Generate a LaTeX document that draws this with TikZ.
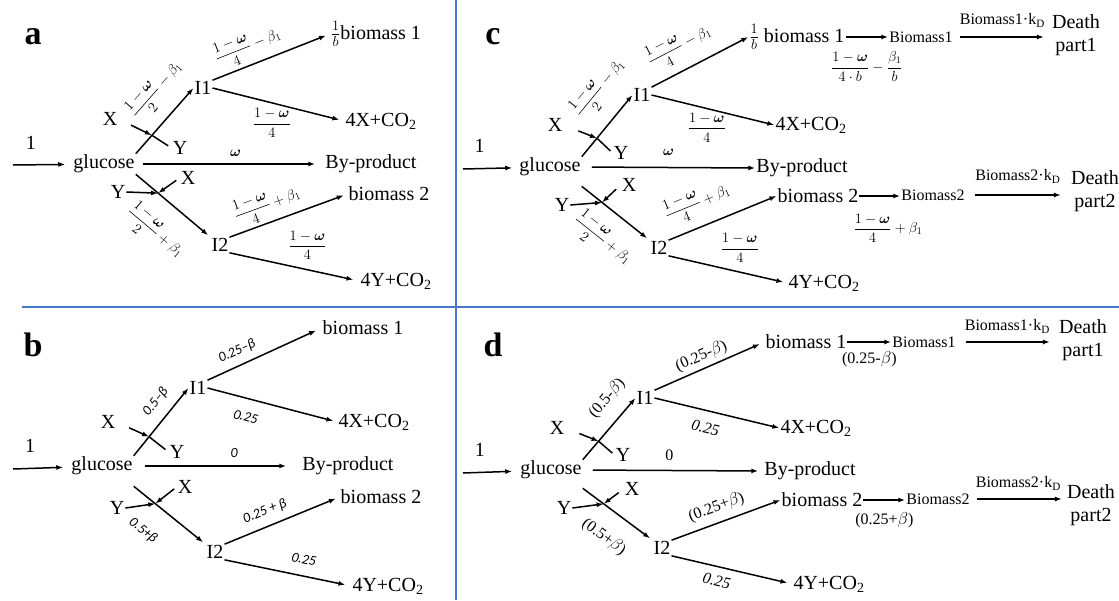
\documentclass[tikz,border=0pt]{standalone}
\usepackage{amsmath}
\usepackage{fontspec}
\setmainfont{Liberation Serif}
\newfontfamily\carlito{Carlito}
\usetikzlibrary{arrows.meta}
\definecolor{sepblue}{RGB}{74,120,200}
\newcommand{\bomega}{\boldsymbol{\omega}}
\begin{document}
\begin{tikzpicture}[x=1pt,y=-1pt,
  every node/.style={font=\fontsize{20}{22}\selectfont, inner sep=1pt},
  flow/.style={-{Latex[length=7pt,width=5pt]}, line width=1.5pt},
  bar/.style={line width=1.5pt},
  tag/.style={font=\fontsize{34}{36}\selectfont\bfseries},
  frac/.style={font=\fontsize{14}{16}\selectfont, inner sep=0pt},
  sanslab/.style={font=\fontsize{14}{16}\selectfont\carlito\itshape, inner sep=0pt},
  seriflab/.style={font=\fontsize{16}{18}\selectfont, inner sep=0pt},
  minor/.style={font=\fontsize{16}{18}\selectfont},
  death/.style={align=center, font=\fontsize{20}{23}\selectfont},
  sep/.style={draw=sepblue, line width=2.6pt}]
\useasboundingbox (0,0) rectangle (1119,600);

% separators
\draw[sep] (456,0) -- (456,600);
\draw[sep] (22,307) -- (1119,307);

% panel a
\node[tag] (taga) at (33,37) {a};
\coordinate (ina) at (13,165);
\node (glua) at (104,164) {glucose};
\node (i1a) at (203,88) {I1};
\node (i2a) at (220,245) {I2};
\node (bm1a) at (376,34) {$\frac{1}{b}$biomass 1};
\node (co2xa) at (381,121) {4X+CO\textsubscript{2}};
\node (bypa) at (371,164) {By-product};
\node (bm2a) at (389,194) {biomass 2};
\node (co2ya) at (396,281) {4Y+CO\textsubscript{2}};
\node (xua) at (110,119) {X};
\node (yua) at (180,148) {Y};
\node (xla) at (188,178) {X};
\node (yla) at (118,192) {Y};

\draw[flow, shorten >=7pt] (ina) -- node[pos=.3, above=14pt] {1} (glua);
\draw[flow] (glua.north east) -- coordinate[pos=.28] (cua) node[frac, pos=.7, sloped, above=12pt] {$\dfrac{1-\bomega}{2}-\beta_1$} (i1a.west);
\draw[flow, shorten <=7pt, shorten >=9pt] (glua.east) -- node[frac, pos=.53, above=7pt] {$\bomega$} (bypa.west);
\draw[flow, shorten >=3pt] (glua.south east) -- coordinate[pos=.3] (cla) node[frac, pos=.53, sloped, below=16pt] {$\dfrac{1-\bomega}{2}+\beta_1$} (i2a.north west);
\draw[flow, shorten >=4pt] (i1a.north east) -- node[frac, pos=.36, sloped, above=4pt] {$\dfrac{1-\bomega}{4}-\beta_1$} (bm1a.west);
\draw[flow, shorten >=5pt] (i1a.east) -- node[frac, pos=.45, below=5pt] {$\dfrac{1-\bomega}{4}$} (co2xa.west);
\draw[flow, shorten >=4pt] (i2a.north east) -- node[frac, pos=.37, sloped, above=3pt] {$\dfrac{1-\bomega}{4}+\beta_1$} (bm2a.west);
\draw[flow, shorten >=6pt] (i2a.south east) -- node[frac, pos=.6, above=9pt] {$\dfrac{1-\bomega}{4}$} (co2ya.west);
\draw[flow, shorten <=14pt] (xua.east) -- (cua);
\draw[bar, shorten >=4pt] (cua) -- (yua.west);
\draw[flow, shorten <=4pt] (xla.west) -- (cla);
\draw[flow] (yla.east) -- (cla);

% panel b
\node[tag] (tagb) at (33,345) {b};
\coordinate (inb) at (13,469);
\node (glub) at (102,466) {glucose};
\node (i1b) at (198,388) {I1};
\node (i2b) at (215,552) {I2};
\node (bm1b) at (363,328) {biomass 1};
\node (co2xb) at (374,422) {4X+CO\textsubscript{2}};
\node (bypb) at (348,466) {By-product};
\node (bm2b) at (381,497) {biomass 2};
\node (co2yb) at (388,586) {4Y+CO\textsubscript{2}};
\node (xub) at (108,422) {X};
\node (yub) at (177,452) {Y};
\node (xlb) at (185,487) {X};
\node (ylb) at (117,508) {Y};

\draw[flow, shorten >=7pt] (inb) -- node[pos=.3, above=14pt] {1} (glub);
\draw[flow] (glub.north east) -- coordinate[pos=.28] (cub) node[sanslab, pos=.64, sloped, above=10pt] {0.5–β} (i1b.west);
\draw[flow, shorten <=11pt, shorten >=15pt] (glub.east) -- node[sanslab, pos=.6, above=8pt] {0} (bypb.west);
\draw[flow, shorten >=3pt] ([yshift=-10pt]glub.south east) -- coordinate[pos=.3] (clb) node[sanslab, pos=.38, sloped, below=22pt] {0.5+β} (i2b.north west);
\draw[flow, shorten >=6pt] (i1b.north east) -- node[sanslab, pos=.31, sloped, above=7pt] {0.25–β} (bm1b.west);
\draw[flow, shorten >=4pt] (i1b.east) -- node[sanslab, pos=.33, sloped, below=13pt] {0.25} (co2xb.west);
\draw[flow, shorten >=4pt] (i2b.north east) -- node[sanslab, pos=.4, sloped, above=8pt] {0.25 + β} (bm2b.west);
\draw[flow, shorten >=6pt] (i2b.south east) -- node[sanslab, pos=.6, sloped, above=11pt] {0.25} (co2yb.west);
\draw[flow, shorten <=14pt] (xub.east) -- (cub);
\draw[bar, shorten >=4pt] (cub) -- (yub.west);
\draw[flow, shorten <=3pt] (xlb.west) -- (clb);
\draw[flow] (ylb.east) -- (clb);

% panel c
\node[tag] (tagc) at (493,37) {c};
\coordinate (inc) at (463,169);
\node (gluc) at (550,167) {glucose};
\node (i1c) at (642,95) {I1};
\node (i2c) at (659,248) {I2};
\node (bm1c) at (797,37) {$\frac{1}{b}$ biomass 1};
\node (co2xc) at (811,125) {4X+CO\textsubscript{2}};
\node (bypc) at (802,168) {By-product};
\node (bm2c) at (818,196) {biomass 2};
\node (co2yc) at (824,283) {4Y+CO\textsubscript{2}};
\node (xuc) at (555,125) {X};
\node (yuc) at (621,153) {Y};
\node (xlc) at (629,185) {X};
\node (ylc) at (562,205) {Y};
\node[minor] (bigbm1c) at (921,37) {Biomass1};
\node[death] (death1c) at (1076,35) {Death\\part1};
\node[minor] (bigbm2c) at (933,195) {Biomass2};
\node[death] (death2c) at (1095,191) {Death\\part2};

\draw[flow, shorten >=6pt] (inc) -- node[pos=.3, above=14pt] {1} (gluc);
\draw[flow] (gluc.north east) -- coordinate[pos=.3] (cuc) node[frac, pos=.8, sloped, above=15pt] {$\dfrac{1-\bomega}{2}-\beta_1$} (i1c.west);
\draw[flow, shorten <=10pt] (gluc.east) -- node[frac, pos=.5, above=11pt] {$\bomega$} (bypc.west);
\draw[flow, shorten >=3pt] ([yshift=-9pt]gluc.south east) -- coordinate[pos=.3] (clc) node[frac, pos=.57, sloped, below=13pt] {$\dfrac{1-\bomega}{2}+\beta_1$} (i2c.north west);
\draw[flow] (i1c.north east) -- node[frac, pos=.4, sloped, above=9pt] {$\dfrac{1-\bomega}{4}-\beta_1$} (bm1c.west);
\draw[flow] (i1c.east) -- node[frac, pos=.45, below=4pt] {$\dfrac{1-\bomega}{4}$} (co2xc.west);
\draw[flow] (i2c.north east) -- node[frac, pos=.35, sloped, above=9pt] {$\dfrac{1-\bomega}{4}+\beta_1$} (bm2c.west);
\draw[flow, shorten >=4pt] (i2c.south east) -- node[frac, pos=.6, above=9pt] {$\dfrac{1-\bomega}{4}$} (co2yc.west);
\draw[flow, shorten <=16pt] (xuc.east) -- (cuc);
\draw[bar, shorten >=3pt] (cuc) -- (yuc.west);
\draw[flow, shorten <=6pt] (xlc.west) -- (clc);
\draw[flow] (ylc.east) -- (clc);
\draw[flow] (bm1c.east) -- node[frac, pos=.5, below=14pt] {$\dfrac{1-\bomega}{4\cdot b}-\dfrac{\beta_1}{b}$} (bigbm1c.west |- bm1c.east);
\draw[flow, shorten <=6pt, shorten >=7pt] (bigbm1c.east) -- node[minor, above=8pt] {Biomass1·k\textsubscript{D}} (death1c.west |- bigbm1c.east);
\draw[flow] (bm2c.east) -- node[frac, pos=.7, below=17pt] {$\dfrac{1-\bomega}{4}+\beta_1$} (bigbm2c.west |- bm2c.east);
\draw[flow, shorten <=9pt, shorten >=9pt] (bigbm2c.east) -- node[minor, above=10pt] {Biomass2·k\textsubscript{D}} (death2c.west |- bigbm2c.east);

% panel d
\node[tag] (tagd) at (493,345) {d};
\coordinate (ind) at (463,473);
\node (glud) at (551,470) {glucose};
\node (i1d) at (645,398) {I1};
\node (i2d) at (662,548) {I2};
\node (bm1d) at (806,342) {biomass 1};
\node (co2xd) at (816,428) {4X+CO\textsubscript{2}};
\node (bypd) at (810,471) {By-product};
\node (bm2d) at (822,500) {biomass 2};
\node (co2yd) at (829,584) {4Y+CO\textsubscript{2}};
\node (xud) at (557,428) {X};
\node (yud) at (623,455) {Y};
\node (xld) at (632,489) {X};
\node (yld) at (564,508) {Y};
\node[minor] (bigbm1d) at (924,342) {Biomass1};
\node[death] (death1d) at (1083,340) {Death\\part1};
\node[minor] (bigbm2d) at (938,499) {Biomass2};
\node[death] (death2d) at (1091,505) {Death\\part2};

\draw[flow, shorten >=7pt] (ind) -- node[pos=.3, above=14pt] {1} (glud);
\draw[flow] (glud.north east) -- coordinate[pos=.3] (cud) node[seriflab, pos=.77, sloped, above=13pt] {(0.5-$\beta$)} (i1d.west);
\draw[flow, shorten <=10pt, shorten >=5pt] (glud.east) -- node[seriflab, pos=.48, above=9pt] {0} (bypd.west);
\draw[flow, shorten >=3pt] ([yshift=-8pt]glud.south east) -- coordinate[pos=.3] (cld) node[seriflab, pos=.53, sloped, below=18pt] {(0.5+$\beta$)} (i2d.north west);
\draw[flow, shorten >=5pt] (i1d.north east) -- node[seriflab, pos=.47, sloped, above=4pt] {(0.25-$\beta$)} (bm1d.west);
\draw[flow] (i1d.east) -- node[seriflab, pos=.44, sloped, below=11pt] {\itshape 0.25} (co2xd.west);
\draw[flow] (i2d.north east) -- node[seriflab, pos=.46, sloped, above=7pt] {(0.25+$\beta$)} (bm2d.west);
\draw[flow, shorten >=5pt] (i2d.south east) -- node[seriflab, pos=.4, sloped, below=8pt] {\itshape 0.25} (co2yd.west);
\draw[flow, shorten <=15pt] (xud.east) -- (cud);
\draw[bar, shorten >=3pt] (cud) -- (yud.west);
\draw[flow, shorten <=6pt] (xld.west) -- (cld);
\draw[flow] (yld.east) -- (cld);
\draw[flow] (bm1d.east) -- node[seriflab, below=9pt] {(0.25-$\beta$)} (bigbm1d.west |- bm1d.east);
\draw[flow, shorten <=9pt, shorten >=8pt] (bigbm1d.east) -- node[minor, above=7pt] {Biomass1·k\textsubscript{D}} (death1d.west |- bigbm1d.east);
\draw[flow] (bm2d.east) -- node[seriflab, below=12pt] {(0.25+$\beta$)} (bigbm2d.west |- bm2d.east);
\draw[flow, shorten <=6pt, shorten >=4pt] (bigbm2d.east) -- node[minor, above=7pt] {Biomass2·k\textsubscript{D}} (death2d.west |- bigbm2d.east);
\end{tikzpicture}
\end{document}
